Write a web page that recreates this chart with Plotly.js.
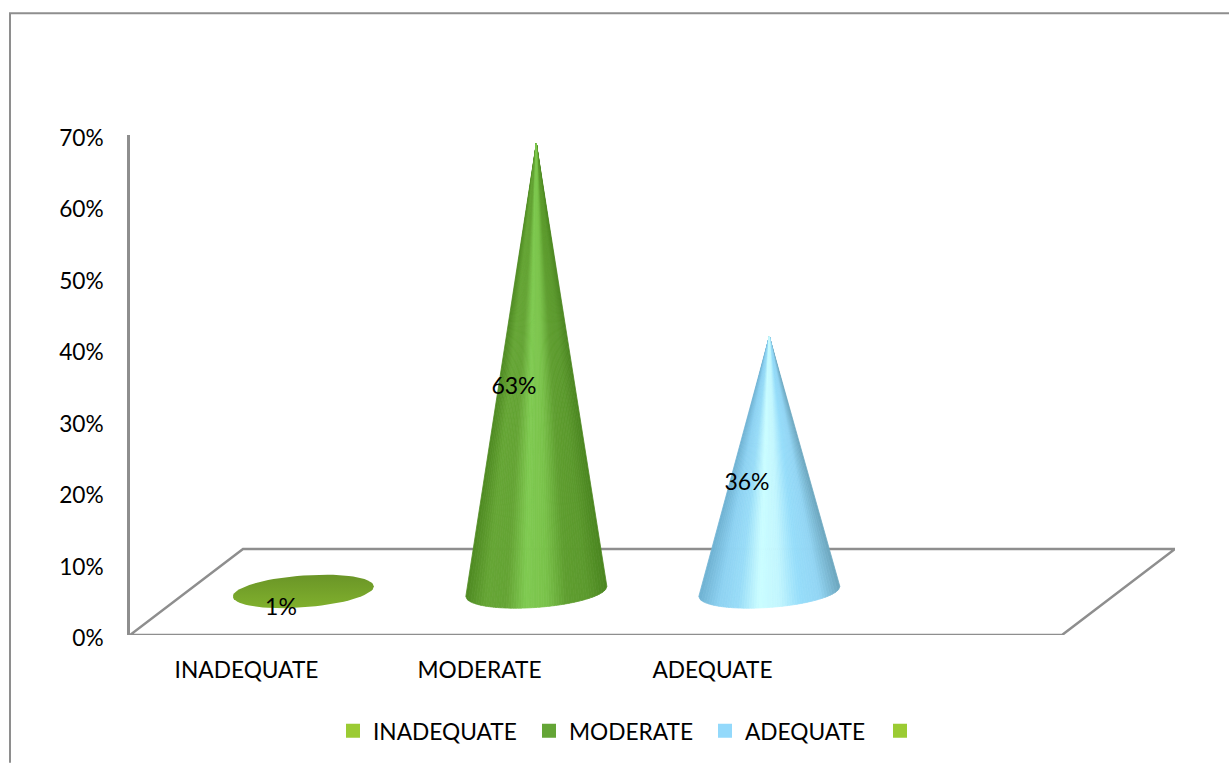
<!DOCTYPE html>
<html>
<head>
<meta charset="utf-8">
<script src="https://cdn.plot.ly/plotly-3.0.1.min.js"></script>
<style>html,body{margin:0;padding:0;background:#fff;overflow:hidden}</style>
</head>
<body>
<div id="chart" style="width:1229px;height:763px"></div>
<script>
// Survey result per category, in percent
const categories = ['INADEQUATE', 'MODERATE', 'ADEQUATE'];
const values = [1, 63, 36];
const yTicks = [0, 10, 20, 30, 40, 50, 60, 70];

// Legend entries; the last one has an empty label
const legendLabels = ['INADEQUATE', 'MODERATE', 'ADEQUATE', ' '];
const legendColors = ['#9BCB33', '#64A536', '#93D9FB', '#9BCB33'];
const legendLeftPx = [333, 529, 705, 880];

// Left-to-right shading across each cone
const moderateShade = ['#4E8A22', '#66A636', '#65A435', '#80CB52', '#7AC24B', '#5F9E30', '#5C9A2E', '#4B8620'];
const adequateShade = ['#6FB2D2', '#8ED2F2', '#9ADDF8', '#CBFDFF', '#C2F6FE', '#97DDFA', '#93D6F4', '#6DA6BE'];
const flatShade = ['#6A9527', '#80B02D'];

const axisGray = '#8E8E8E';
const font = 'Lato, Carlito, sans-serif';
const textSize = 22.7;

// Oblique projection of the chart floor, in axis units
const depthX = 0.485, depthY = 12.04;
const floorEnd = 3.5;

// Cone geometry, in axis units
const coneShiftX = 0.244, baseLift = 6.1, tipLift = 5.8;
const radiusX = 0.3026, radiusY = 2.24, tiltY = 0.7;
const slices = 56;

function hexToRgb(h) {
  return [1, 3, 5].map(i => parseInt(h.slice(i, i + 2), 16));
}
function ramp(stops, u) {
  const p = Math.min(u, 0.9999) * (stops.length - 1), i = Math.floor(p), f = p - i;
  const a = hexToRgb(stops[i]), b = hexToRgb(stops[i + 1]);
  return 'rgb(' + a.map((c, k) => Math.round(c + (b[k] - c) * f)).join(',') + ')';
}
// Point on the base ellipse: u runs 0..1 left to right along its front edge
function basePoint(cx, u) {
  const c = 2 * u - 1, s = Math.sqrt(Math.max(0, 1 - c * c));
  return [cx + radiusX * c, baseLift - radiusY * s + tiltY * c];
}

const traces = [];

// A cone is a fan of thin slices from the tip to the front edge of its base.
// Outer slices go first so the lit middle stays on top at the narrow tip.
function addCone(index, stops) {
  const cx = index + coneShiftX, tip = values[index] + tipLift;
  const order = Array.from({length: slices}, (_, k) => k)
    .sort((p, q) => Math.abs(q + 0.5 - slices / 2) - Math.abs(p + 0.5 - slices / 2));
  order.forEach(k => {
    const u0 = k / slices, u1 = (k + 1) / slices, color = ramp(stops, (u0 + u1) / 2);
    const a = basePoint(cx, u0), b = basePoint(cx, (u0 + u1) / 2), c = basePoint(cx, u1);
    traces.push({
      type: 'scatter', mode: 'lines', fill: 'toself', fillcolor: color,
      x: [cx, a[0], b[0], c[0], cx], y: [tip, a[1], b[1], c[1], tip],
      line: {color: color, width: 0.8}, hoverinfo: 'skip', showlegend: false
    });
  });
}

// The 1% category is too short to read as a cone, so only its base shows
function addDisc(index, stops) {
  const cx = index + coneShiftX, xs = [], ys = [];
  for (let k = 0; k <= 72; k++) {
    const t = 2 * Math.PI * k / 72;
    xs.push(cx + radiusX * Math.cos(t));
    ys.push(baseLift + radiusY * Math.sin(t) + tiltY * Math.cos(t));
  }
  traces.push({
    type: 'scatter', mode: 'lines', fill: 'toself', x: xs, y: ys,
    line: {width: 0},
    fillgradient: {type: 'vertical', colorscale: [[0, stops[1]], [1, stops[0]]]},
    hoverinfo: 'skip', showlegend: false
  });
}

addDisc(0, flatShade);
addCone(1, moderateShade);
addCone(2, adequateShade);

// Value labels
traces.push({
  type: 'scatter', mode: 'text',
  x: categories.map((_, i) => i + 0.148),
  y: values.map(v => v / 2 + 3.1),
  text: values.map(v => v + '%'),
  textposition: 'middle center',
  textfont: {family: font, size: 23, color: '#000'},
  cliponaxis: false, hoverinfo: 'skip', showlegend: false
});

const figW = 1229, figH = 763, marginL = 130, marginR = 54, marginT = 135, marginB = 127;
const plotW = figW - marginL - marginR, plotH = figH - marginT - marginB;
const paperX = px => (px - marginL) / plotW;
const paperY = py => 1 - (py - marginT) / plotH;

const layout = {
  width: figW, height: figH, autosize: false,
  paper_bgcolor: '#fff', plot_bgcolor: 'rgba(0,0,0,0)',
  margin: {l: marginL, r: marginR, t: marginT, b: marginB, pad: 0},
  font: {family: font, size: textSize, color: '#000'},
  xaxis: {
    range: [-0.5, floorEnd + depthX], showgrid: false, zeroline: false, showline: false,
    tickmode: 'array', tickvals: categories.map((_, i) => i), ticktext: categories,
    ticks: '', ticklabelstandoff: 19, tickfont: {family: font, size: textSize, color: '#000'}
  },
  yaxis: {
    range: [0, 70], showgrid: false, zeroline: false,
    showline: true, linecolor: axisGray, linewidth: 2.5,
    tickmode: 'array', tickvals: yTicks, ticktext: yTicks.map(v => v + '%'),
    ticks: '', ticklabelstandoff: 19, ticklabelshift: 3,
    tickfont: {family: font, size: textSize, color: '#000'}
  },
  shapes: [
    // Floor of the chart
    {type: 'path', layer: 'below', xref: 'x', yref: 'y',
     path: `M -0.5 0 L ${floorEnd} 0 L ${floorEnd + depthX} ${depthY} L ${-0.5 + depthX} ${depthY} Z`,
     line: {color: axisGray, width: 2.5}},
    // Outer frame, left and top edges
    {type: 'path', xref: 'paper', yref: 'paper',
     path: `M ${paperX(10)} ${paperY(764)} L ${paperX(10)} ${paperY(13)} L ${paperX(1230)} ${paperY(13)}`,
     line: {color: axisGray, width: 2}}
  ]
};

// One legend per entry, so the uneven spacing along the bottom row can be kept
legendLabels.forEach((label, i) => {
  const legendId = i === 0 ? 'legend' : 'legend' + (i + 1);
  traces.push({
    type: 'scatter', mode: 'markers', name: label, x: [null], y: [null], legend: legendId,
    marker: {symbol: 'square', size: 14, color: legendColors[i]},
    hoverinfo: 'skip', showlegend: true
  });
  layout[legendId] = {
    orientation: 'h', x: paperX(legendLeftPx[i]), xanchor: 'left', y: paperY(731), yanchor: 'middle',
    font: {family: font, size: textSize, color: '#000'}, bgcolor: 'rgba(0,0,0,0)'
  };
});

Plotly.newPlot('chart', traces, layout, {displayModeBar: false, responsive: false});
</script>
</body>
</html>
